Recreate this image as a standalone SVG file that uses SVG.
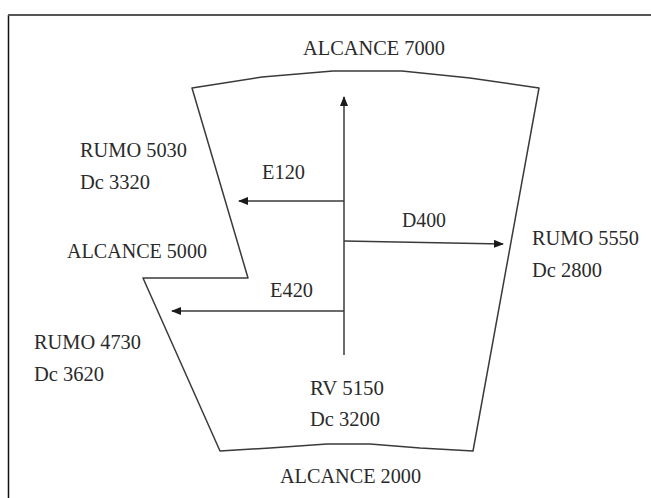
<svg xmlns="http://www.w3.org/2000/svg" width="651" height="498" viewBox="0 0 651 498">
<defs>
<style>
.t{font-family:"Liberation Serif","Times New Roman",serif;font-size:20px;fill:#2a2a2a}
.ln{fill:none;stroke:#3a3a3a;stroke-width:1.5;stroke-linejoin:round}
.ar{fill:none;stroke:#3a3a3a;stroke-width:1.5;marker-end:url(#ah)}
</style>
<marker id="ah" viewBox="0 0 10 8" refX="9" refY="4" markerWidth="10" markerHeight="8" markerUnits="userSpaceOnUse" orient="auto">
<path d="M0,0 L10,4 L0,8 Z" fill="#1a1a1a"/>
</marker>
</defs>
<rect width="651" height="498" fill="#fff"/>
<g id="frame">
<path d="M8.5,498 V15" stroke="#111" stroke-width="1.5" fill="none"/>
<path d="M8,15 H651" stroke="#555" stroke-width="2" fill="none"/>
</g>
<g id="sector">
<path class="ln" d="M192,88 L262,77 L333,71 L402,71 L470,78 L539,88 L473,451 L420,448 L370,444 L327,444 L270,448 L220,451 L143,278 L248,278 Z"/>
</g>
<g id="connectors">
<path class="ar" d="M344,355 V97"/>
<path class="ar" d="M344,201 H239"/>
<path class="ar" d="M344,311 H172"/>
<path class="ar" d="M344,241 L503,244"/>
</g>
<g id="labels">
<text class="t" x="303" y="55" textLength="142" lengthAdjust="spacingAndGlyphs">ALCANCE 7000</text>
<text class="t" x="80" y="157" textLength="107" lengthAdjust="spacingAndGlyphs">RUMO 5030</text>
<text class="t" x="80" y="189" textLength="70" lengthAdjust="spacingAndGlyphs">Dc 3320</text>
<text class="t" x="262" y="179" textLength="43" lengthAdjust="spacingAndGlyphs">E120</text>
<text class="t" x="402" y="227" textLength="44" lengthAdjust="spacingAndGlyphs">D400</text>
<text class="t" x="67" y="258" textLength="140" lengthAdjust="spacingAndGlyphs">ALCANCE 5000</text>
<text class="t" x="532" y="245" textLength="107" lengthAdjust="spacingAndGlyphs">RUMO 5550</text>
<text class="t" x="532" y="277" textLength="70" lengthAdjust="spacingAndGlyphs">Dc 2800</text>
<text class="t" x="270" y="297" textLength="43" lengthAdjust="spacingAndGlyphs">E420</text>
<text class="t" x="34" y="349" textLength="107" lengthAdjust="spacingAndGlyphs">RUMO 4730</text>
<text class="t" x="34" y="381" textLength="70" lengthAdjust="spacingAndGlyphs">Dc 3620</text>
<text class="t" x="310" y="395" textLength="74" lengthAdjust="spacingAndGlyphs">RV 5150</text>
<text class="t" x="310" y="426" textLength="70" lengthAdjust="spacingAndGlyphs">Dc 3200</text>
<text class="t" x="280" y="483" textLength="141" lengthAdjust="spacingAndGlyphs">ALCANCE 2000</text>
</g>
</svg>
